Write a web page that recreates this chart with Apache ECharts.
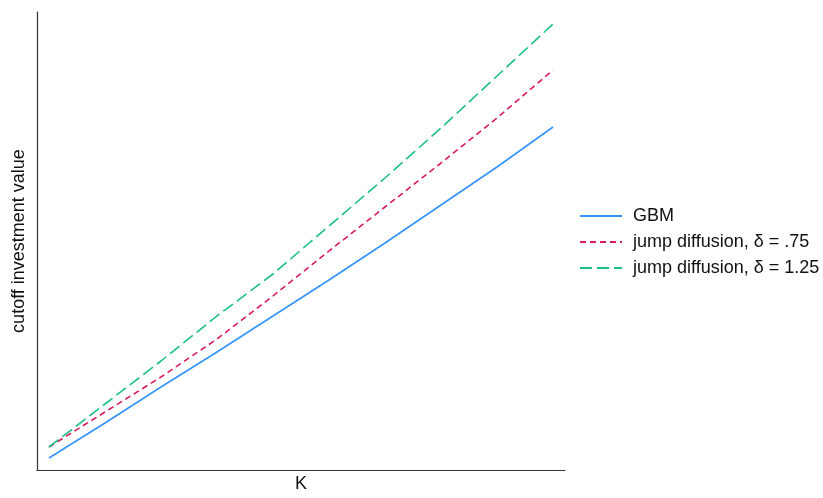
<!DOCTYPE html>
<html><head><meta charset="utf-8">
<script src="https://cdn.jsdelivr.net/npm/echarts@6/dist/echarts.min.js"></script>
<style>html,body{margin:0;padding:0;background:#fff}#c{width:823px;height:498px}</style>
</head><body><div id="c"></div>
<script>
var kValues = [1, 2, 3, 4, 5, 6, 7, 8, 9, 10];
var gbm = [12, 47, 83, 118, 154, 190, 227, 265, 303, 343];
var jump075 = [23, 58, 93, 131, 174, 219, 263, 307, 352, 400];
var jump125 = [23, 66, 109, 154, 196, 244, 292, 342, 394, 446];
var seriesNames = ['GBM', 'jump diffusion, δ = .75', 'jump diffusion, δ = 1.25'];

function pairs(ys){ return kValues.map(function(k,i){ return [k, ys[i]]; }); }

var chart = echarts.init(document.getElementById('c'), null, {renderer:'canvas'});
var font = 'Liberation Sans, Arial, Helvetica, sans-serif';
chart.setOption({
  animation:false,
  textStyle:{fontFamily:font},
  grid:{left:37, right:258, top:12, bottom:28, containLabel:false, outerBoundsMode:'none'},
  xAxis:{type:'value', min:0.786, max:10.214, name:'K', nameLocation:'middle', nameGap:5,
    nameTextStyle:{fontSize:18, color:'#111', fontFamily:font},
    axisLine:{show:true, lineStyle:{color:'#333', width:1.2}}, axisTick:{show:false}, axisLabel:{show:false}, splitLine:{show:false}},
  yAxis:{type:'value', min:0, max:458, name:'cutoff investment value', nameLocation:'middle', nameGap:9,
    nameTextStyle:{fontSize:18, color:'#111', fontFamily:font},
    axisLine:{show:true, lineStyle:{color:'#333', width:1.2}}, axisTick:{show:false}, axisLabel:{show:false}, splitLine:{show:false}},
  legend:{orient:'vertical', left:574, top:202, itemWidth:42, itemHeight:14, itemGap:8,
    itemStyle:{opacity:0},
    textStyle:{fontSize:18, color:'#111', fontFamily:font, padding:[0,0,0,6]}, data:seriesNames},
  series:[
    {name:seriesNames[0], type:'line', data:pairs(gbm), showSymbol:false, symbol:'none',
      lineStyle:{color:'#3394ff', width:1.6, type:'solid'}, itemStyle:{color:'#3394ff'}},
    {name:seriesNames[1], type:'line', data:pairs(jump075), showSymbol:false, symbol:'none',
      lineStyle:{color:'#d81b60', width:1.6, type:[6,4]}, itemStyle:{color:'#d81b60'}},
    {name:seriesNames[2], type:'line', data:pairs(jump125), showSymbol:false, symbol:'none',
      lineStyle:{color:'#1bbf85', width:1.6, type:[12,5]}, itemStyle:{color:'#1bbf85'}}
  ]
});
</script></body></html>
